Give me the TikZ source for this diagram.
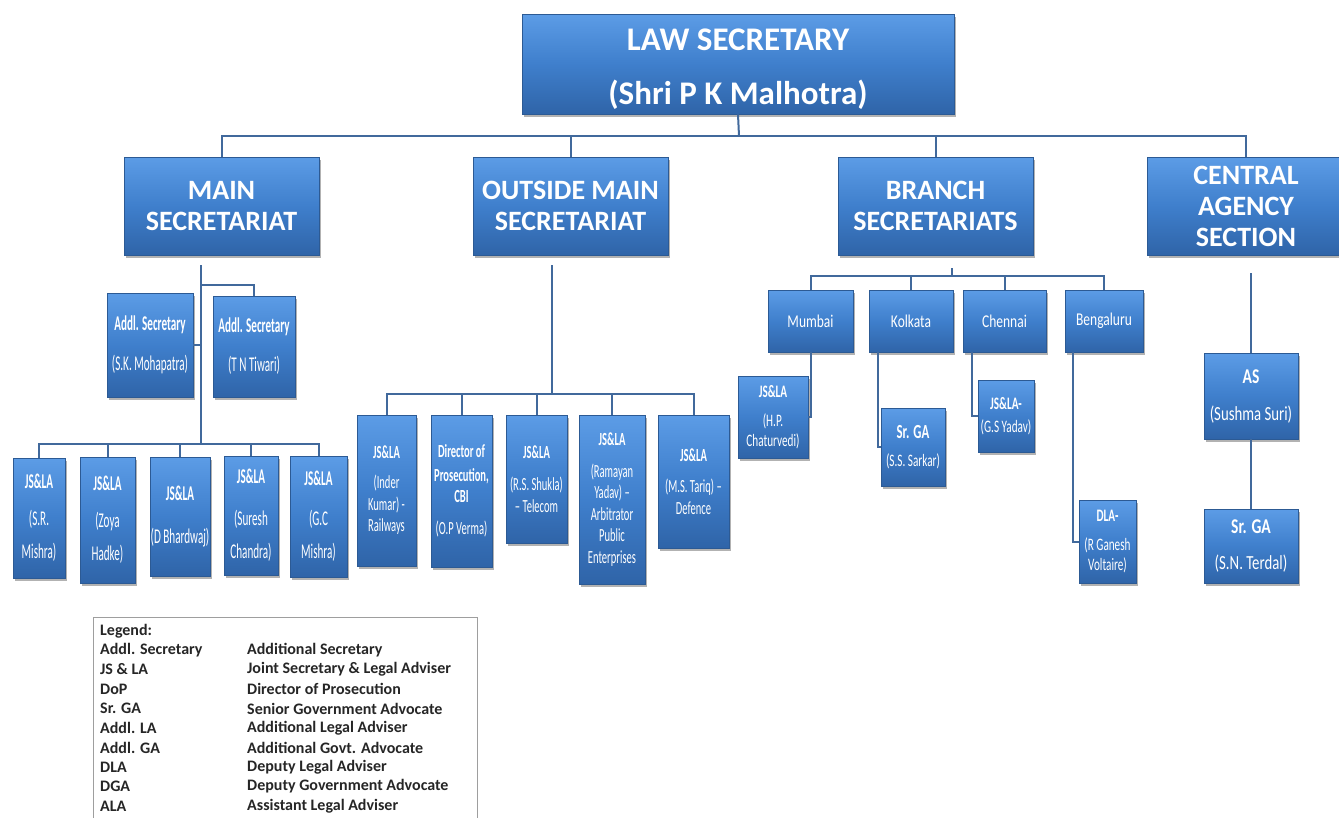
\documentclass[tikz,border=0pt]{standalone}
\usepackage{fontspec}
\setmainfont{Carlito}
\newfontfamily\nfa[FakeStretch=0.53]{Carlito}
\newfontfamily\nfo[FakeStretch=0.57]{Carlito}
\newfontfamily\nfb[FakeStretch=0.64]{Carlito}
\newfontfamily\nfc[FakeStretch=0.75]{Carlito}
\newfontfamily\nfd[FakeStretch=0.74]{Carlito}
\usetikzlibrary{shadows}
\definecolor{boxtop}{HTML}{5C9CE6}
\definecolor{boxmid}{HTML}{3F7FCC}
\definecolor{boxbot}{HTML}{2F64A8}
\definecolor{boxedge}{HTML}{2C5A94}
\definecolor{boxhi}{HTML}{86BDF5}
\definecolor{conn}{HTML}{41699C}
\definecolor{legtxt}{HTML}{262626}
\tikzset{
  orgbox/.style={rectangle, inner sep=0pt, top color=boxtop, bottom color=boxbot, middle color=boxmid,
    draw=boxedge, line width=0.6pt, text=white, align=center,
    path picture={\draw[boxhi, line width=2.5pt] (path picture bounding box.north west) -- (path picture bounding box.north east);},
    drop shadow={shadow xshift=1.5pt, shadow yshift=-2.5pt, opacity=0.3, fill=black}},
  topbox/.style={orgbox, font=\bfseries\fontsize{33}{54}\selectfont},
  secbox/.style={orgbox, font=\bfseries\fontsize{28}{31}\selectfont},
  msbox/.style={orgbox, font=\nfa\fontsize{21}{33}\selectfont},
  asbox/.style={orgbox, font=\nfa\fontsize{21}{22}\selectfont},
  obox/.style={orgbox, font=\nfo\fontsize{18.5}{21.5}\selectfont},
  citybox/.style={orgbox, font=\nfc\fontsize{18}{22}\selectfont},
  childbox/.style={orgbox, font=\nfb\fontsize{17.5}{20}\selectfont},
  casbox/.style={orgbox, font=\nfd\fontsize{20}{22}\selectfont},
  conn/.style={draw=conn, line width=2pt},
  legendbox/.style={draw=black!38, line width=1.3pt, fill=white, inner sep=0pt},
  legtext/.style={anchor=west, inner sep=0pt, text=legtxt, font=\bfseries\fontsize{16}{18}\selectfont},
}
\begin{document}
\begin{tikzpicture}[x=1pt,y=-1pt]
\useasboundingbox (0,0) rectangle (1339,817);
\fill[white] (0,0) rectangle (1339,817);

% top
\node[topbox, minimum width=432pt, minimum height=100pt] (law) at (738,64) {\rule{0pt}{31pt}LAW SECRETARY\\(Shri P K Malhotra)};

% level 2
\node[secbox, minimum width=195pt, minimum height=98pt] (ms) at (221.5,206) {MAIN\\SECRETARIAT};
\node[secbox, minimum width=195pt, minimum height=98pt] (oms) at (570.5,206) {OUTSIDE MAIN\\SECRETARIAT};
\node[secbox, minimum width=195pt, minimum height=98pt] (bs) at (935.5,206) {BRANCH\\SECRETARIATS};
\node[secbox, minimum width=198pt, minimum height=98pt] (cas) at (1246,206) {CENTRAL\\AGENCY\\SECTION};

% main secretariat
\node[asbox, minimum width=86pt, minimum height=104pt] (as1) at (150,345) {\bfseries Addl. Secretary\\[18pt](S.K. Mohapatra)};
\node[asbox, minimum width=82pt, minimum height=101pt] (as2) at (254,346.5) {\bfseries Addl. Secretary\\[17pt](T N Tiwari)};
\node[msbox, minimum width=52pt, minimum height=120pt] (js1) at (39,518) {{\bfseries JS\&LA}\\[4pt](S.R.\\Mishra)};
\node[msbox, minimum width=55pt, minimum height=126pt] (js2) at (107.5,520) {{\bfseries JS\&LA}\\[4pt](Zoya\\Hadke)};
\node[msbox, minimum width=60pt, minimum height=119pt] (js3) at (180,516.5) {{\bfseries JS\&LA}\\[10pt](D Bhardwaj)};
\node[msbox, minimum width=54pt, minimum height=119pt] (js4) at (251,515.5) {{\bfseries JS\&LA}\\[9pt](Suresh\\Chandra)};
\node[msbox, minimum width=57pt, minimum height=121pt] (js5) at (318.5,516.5) {{\bfseries JS\&LA}\\[7pt](G.C\\Mishra)};

% outside main secretariat
\node[obox, minimum width=59pt, minimum height=151pt] (o1) at (386.5,490.5) {{\bfseries JS\&LA}\\[8.5pt](Inder\\Kumar) -\\Railways};
\node[obox, minimum width=61pt, minimum height=152pt] (o2) at (461.5,491) {{\bfseries Director of}\\[2pt]{\bfseries Prosecution,}\\{\bfseries CBI}\\[10pt](O.P Verma)};
\node[obox, minimum width=61pt, minimum height=128pt] (o3) at (536.5,479) {{\bfseries JS\&LA}\\[11pt](R.S. Shukla)\\– Telecom};
\node[obox, minimum width=66pt, minimum height=169pt] (o4) at (612,499.5) {{\bfseries JS\&LA}\\[10pt](Ramayan\\Yadav) –\\Arbitrator\\Public\\Enterprises};
\node[obox, minimum width=71pt, minimum height=133pt] (o5) at (693.5,481.5) {{\bfseries JS\&LA}\\[10pt](M.S. Tariq) –\\Defence};

% branch secretariats
\node[citybox, minimum width=85pt, minimum height=62pt] (mum) at (810.5,321) {Mumbai};
\node[citybox, minimum width=84pt, minimum height=62pt] (kol) at (911,321) {Kolkata};
\node[citybox, minimum width=83pt, minimum height=62pt] (che) at (1004.5,321) {Chennai};
\node[citybox, minimum width=78pt, minimum height=62pt] (ben) at (1104,321) {Bengaluru};
\node[childbox, minimum width=70pt, minimum height=82pt] (c1) at (773,417) {{\bfseries JS\&LA}\\[9pt](H.P.\\Chaturvedi)};
\node[childbox, minimum width=64pt, minimum height=78pt] (c2) at (913,447) {{\bfseries\fontsize{20}{22}\selectfont Sr. GA}\\[8pt](S.S. Sarkar)};
\node[childbox, minimum width=56pt, minimum height=72pt] (c3) at (1006,416) {{\bfseries JS\&LA-}\\[3pt](G.S Yadav)};
\node[childbox, minimum width=57pt, minimum height=83pt] (c4) at (1107.5,541.5) {{\bfseries DLA-}\\[9pt](R Ganesh\\Voltaire)};

% central agency section
\node[casbox, minimum width=94pt, minimum height=86pt] (asn) at (1251,396) {{\bfseries\fontsize{21}{22}\selectfont AS}\\[15pt](Sushma Suri)};
\node[casbox, minimum width=94pt, minimum height=74pt] (sga) at (1251,546) {{\bfseries\fontsize{21}{22}\selectfont Sr. GA}\\[14pt](S.N. Terdal)};

% connectors: top level
\coordinate (bus) at (739,136);
\draw[conn] (law.south) -- (bus);
\draw[conn] (ms.north) |- (bus) -| (cas.north);
\draw[conn] (oms.north) |- (bus);
\draw[conn] (bs.north) |- (bus);

% main secretariat connectors
\coordinate (msv) at (201,265);
\coordinate (mst) at (201,285);
\coordinate (msb) at (201,444);
\draw[conn] (msv) -- (msb);
\draw[conn] (mst) -| (as2.north);
\draw[conn] (as1.east) -- (as1.east -| msv);
\draw[conn] (js1.north) |- (msb) -| (js5.north);
\foreach \n in {js2,js3,js4} \draw[conn] (\n.north) |- (msb);

% outside connectors
\coordinate (omv) at (552,265);
\coordinate (omb) at (552,394);
\draw[conn] (omv) -- (omb);
\draw[conn] (o1.north) |- (omb) -| (o5.north);
\foreach \n in {o2,o3,o4} \draw[conn] (\n.north) |- (omb);

% branch connectors
\coordinate (bsv) at (952,268);
\coordinate (bsb) at (952,276);
\draw[conn] (bsv) -- (bsb);
\draw[conn] (mum.north) |- (bsb) -| (ben.north);
\foreach \n in {kol,che} \draw[conn] (\n.north) |- (bsb);
\draw[conn] (mum.south) |- (c1.east);
\draw[conn] ([xshift=9pt]kol.south west) |- (c2.west);
\draw[conn] ([xshift=9pt]che.south west) |- (c3.west);
\draw[conn] ([xshift=8pt]ben.south west) |- (c4.west);

% central connectors
\coordinate (casv) at (1251,273);
\draw[conn] (casv) -- (asn.north);
\draw[conn] (asn.south) -- (sga.north);

% legend
\node[legendbox, anchor=north west, minimum width=384pt, minimum height=230pt] (legend) at (93,617) {};
\node[legtext] (lgtitle) at (100,631) {Legend:};
\foreach \k/\v [count=\i from 0] in {Addl. Secretary/Additional Secretary, JS \& LA/Joint Secretary \& Legal Adviser, DoP/Director of Prosecution, Sr. GA/Senior Government Advocate, Addl. LA/Additional Legal Adviser, Addl. GA/Additional Govt. Advocate, DLA/Deputy Legal Adviser, DGA/Deputy Government Advocate, ALA/Assistant Legal Adviser}{
  \node[legtext] (lgk\i) at (100,{650+19.5*\i}) {\k};
  \node[legtext] (lgv\i) at (247,{650+19.5*\i}) {\v};
}
\end{tikzpicture}
\end{document}
